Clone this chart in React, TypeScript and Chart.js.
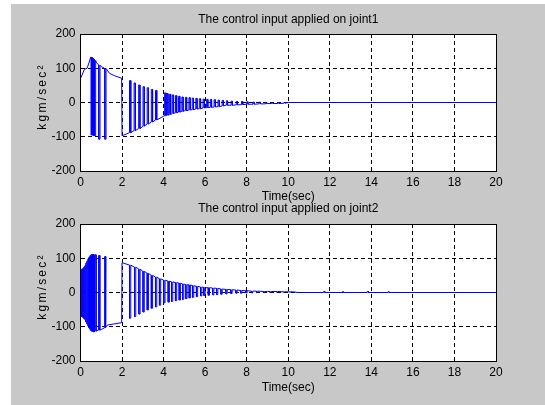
import React, { useEffect, useRef } from "react";
import { Chart, registerables } from "chart.js";

Chart.register(...registerables);

const FONT = '"Liberation Sans", Arial, sans-serif';

const X_TICKS = [0, 2, 4, 6, 8, 10, 12, 14, 16, 18, 20];
const Y_TICKS = [-200, -100, 0, 100, 200];
const TITLE_1 = "The control input applied on joint1";
const TITLE_2 = "The control input applied on joint2";
const X_LABEL = "Time(sec)";
const Y_LABEL = "kgm/sec²";

// ---- joint 1 ----
// path the signal follows between the chattering pulses
const J1_BASE_T = [0, 0.19, 0.32, 0.5, 0.75, 1.0, 1.4, 1.64, 1.98, 2.0, 3.0, 4.0, 5.0, 6.0, 7.0, 8.0, 9.0, 9.85, 10.0, 20];
const J1_BASE_V = [70, 97, 100, 133, 118, 105, 85, 78, 71, -97, -70, -40, -24, -15, -8, -5, -3, -2, 0, 0];
// chattering pulses: time, value where pulse starts, value it reaches
const J1_SPIKE_T = [0.52, 0.57, 0.62, 0.67, 0.88, 1.17, 2.36, 2.58, 2.8, 3.01, 3.21, 3.41, 3.61, 4.05, 4.15, 4.28, 4.42, 4.57, 4.72, 4.88, 5.05, 5.22, 5.38, 5.55, 5.72, 5.9, 6.07, 6.25, 6.43, 6.62, 6.82, 7.02, 7.25, 7.5, 7.75, 8.0, 8.3, 8.6, 8.9, 9.2, 9.5, 9.8];
const J1_SPIKE_FROM = [132, 129, 126, 123, 109, 99, -88, -82, -76, -69, -63, -57, -51, -39, -37, -35, -32, -30, -28, -26, -24, -22, -21, -19, -18, -16, -15, -14, -13, -12, -10, -8, -8, -7, -6, -5, -5, -4, -4, -3, -3, -2];
const J1_SPIKE_TO = [-95, -95, -96, -97, -107, -107, 64, 57, 51, 46, 43, 38, 35, 28, 26, 24, 22, 20, 18, 16, 15, 14, 13, 12, 11, 10, 9, 9, 8, 7, 6, 5, 4, 3, 3, 2, 1, 1, 0, 0, 0, 0];

// ---- joint 2 ----
const J2_BASE_T = [0, 0.63, 0.8, 1.0, 1.2, 1.3, 1.6, 1.98, 2.0, 3.0, 4.0, 5.0, 6.0, 7.0, 8.0, 9.0, 10.0, 10.5, 20];
const J2_BASE_V = [-69, -115, -111, -108, -101, -95, -92, -88, 87, 62, 36, 24, 14, 9, 5, 3, 2, 0, 0];
const J2_SPIKE_T = [0, 0.05, 0.1, 0.15, 0.2, 0.25, 0.3, 0.35, 0.4, 0.45, 0.5, 0.55, 0.6, 0.69, 0.87, 1.16, 2.36, 2.6, 2.81, 3.01, 3.21, 3.41, 3.61, 3.8, 4.01, 4.22, 4.38, 4.57, 4.75, 4.91, 5.07, 5.23, 5.39, 5.58, 5.78, 5.94, 6.15, 6.36, 6.55, 6.76, 7.0, 7.24, 7.48, 7.71, 7.96, 8.23, 8.47, 8.8, 9.12, 9.44, 9.76, 10.08, 10.4, 11.7, 12.6, 13.8, 14.8];
const J2_SPIKE_FROM = [-69, -71, -73, -76, -79, -86, -92, -98, -104, -108, -112, -114, -115, -113, -110, -103, 80, 74, 68, 62, 56, 50, 45, 40, 36, 33, 31, 29, 27, 25, 23, 22, 20, 18, 16, 15, 14, 13, 12, 10, 9, 8, 7, 6, 5, 4, 4, 3, 3, 3, 2, 2, 1, 0, 0, 0, 0];
const J2_SPIKE_TO = [66, 68, 70, 74, 78, 86, 92, 98, 103, 107, 110, 111, 110, 110, 108, 105, -75, -70, -63, -57, -51, -46, -42, -37, -30, -28, -26, -24, -22, -20, -18, -16, -14, -12, -10, -9, -8, -7, -6, -5, -4, -3, -2, -2, -1, -1, 0, 0, 0, 1, 1, 1, 0, 3, 2, 3, 2];

const PULSE_WIDTH = 0.06;

function buildSeries(baseT: number[], baseV: number[], spT: number[], spFrom: number[], spTo: number[]) {
  const ev: { t: number; k: number; pts: { x: number; y: number }[] }[] = [];
  baseT.forEach((t, i) => ev.push({ t, k: 0, pts: [{ x: t, y: baseV[i] }] }));
  spT.forEach((t, i) =>
    ev.push({
      t,
      k: 1,
      pts: [
        { x: t, y: spFrom[i] },
        { x: t, y: spTo[i] },
        { x: t + PULSE_WIDTH, y: spTo[i] },
        { x: t + PULSE_WIDTH, y: spFrom[i] },
      ],
    })
  );
  ev.sort((a, b) => a.t - b.t || a.k - b.k);
  return ev.flatMap((e) => e.pts);
}

const framePlugin = {
  id: "matlabFrame",
  beforeDraw(chart: any) {
    const { ctx, chartArea: a } = chart;
    ctx.save();
    ctx.fillStyle = "#ffffff";
    ctx.fillRect(a.left, a.top, a.right - a.left, a.bottom - a.top);
    ctx.restore();
  },
  afterDraw(chart: any) {
    const { ctx, chartArea: a } = chart;
    const al = (v: number) => Math.round(v - 0.5) + 0.5;
    ctx.save();
    ctx.strokeStyle = "#000";
    ctx.lineWidth = 1;
    ctx.setLineDash([]);
    ctx.strokeRect(al(a.left), al(a.top), al(a.right) - al(a.left), al(a.bottom) - al(a.top));
    // rotated y label
    ctx.translate(42.5, (a.top + a.bottom) / 2 - 6);
    ctx.rotate(-Math.PI / 2);
    ctx.font = `12px ${FONT}`;
    (ctx as any).letterSpacing = "2.2px";
    ctx.fillStyle = "#000";
    ctx.textAlign = "center";
    ctx.textBaseline = "middle";
    ctx.fillText(Y_LABEL, 0, 0);
    ctx.restore();
  },
};

function makeConfig(title: string, data: { x: number; y: number }[], padTop: number, padBottom: number, titlePad: { top: number; bottom: number }, xTitlePadBottom: number): any {
  return {
    type: "line",
    data: {
      datasets: [
        {
          data,
          borderColor: "#0000ff",
          borderWidth: 1,
          pointRadius: 0,
          fill: false,
          tension: 0,
        },
      ],
    },
    options: {
      animation: false,
      responsive: false,
      devicePixelRatio: 1,
      events: [],
      layout: { padding: { left: 0, right: 49, top: padTop, bottom: padBottom } },
      plugins: {
        legend: { display: false },
        tooltip: { enabled: false },
        title: {
          display: true,
          text: title,
          fullSize: false,
          color: "#000",
          font: { family: FONT, size: 12, weight: "normal", lineHeight: 1.2 },
          padding: titlePad,
        },
      },
      scales: {
        x: {
          type: "linear",
          min: 0,
          max: 20,
          afterBuildTicks: (s: any) => {
            s.ticks = X_TICKS.map((v) => ({ value: v }));
          },
          afterFit: (s: any) => {
            s.height = 40;
          },
          ticks: {
            color: "#000",
            font: { family: FONT, size: 12, lineHeight: 1.2 },
            padding: 4.5,
            autoSkip: false,
            maxRotation: 0,
            callback: (v: any) => String(v),
          },
          grid: { color: "#000", lineWidth: 1, drawTicks: false },
          border: { display: true, color: "#000", dash: [4, 3] },
          title: {
            display: true,
            text: X_LABEL,
            color: "#000",
            font: { family: FONT, size: 12, lineHeight: 1.2 },
            padding: { top: 0, bottom: xTitlePadBottom },
          },
        },
        y: {
          type: "linear",
          min: -200,
          max: 200,
          afterBuildTicks: (s: any) => {
            s.ticks = Y_TICKS.map((v) => ({ value: v }));
          },
          afterFit: (s: any) => {
            s.width = 80.5;
          },
          ticks: {
            color: "#000",
            font: { family: FONT, size: 12, lineHeight: 1.2 },
            padding: 5,
            callback: (v: any) => String(v),
          },
          grid: { color: "#000", lineWidth: 1, drawTicks: false },
          border: { display: true, color: "#000", dash: [4, 3] },
        },
      },
    },
    plugins: [framePlugin],
  };
}

export default function App() {
  const ref1 = useRef<HTMLCanvasElement>(null);
  const ref2 = useRef<HTMLCanvasElement>(null);

  useEffect(() => {
    const s1 = buildSeries(J1_BASE_T, J1_BASE_V, J1_SPIKE_T, J1_SPIKE_FROM, J1_SPIKE_TO);
    const s2 = buildSeries(J2_BASE_T, J2_BASE_V, J2_SPIKE_T, J2_SPIKE_FROM, J2_SPIKE_TO);
    const c1 = new Chart(ref1.current!, makeConfig(TITLE_1, s1, 0, 194, { top: 12.3, bottom: 7.3 }, 6.8));
    const c2 = new Chart(ref2.current!, makeConfig(TITLE_2, s2, 189.8, 4, { top: 12, bottom: 7.8 }, 5.8));
    return () => {
      c1.destroy();
      c2.destroy();
    };
  }, []);

  const cs: React.CSSProperties = { position: "absolute", left: 0, top: 0, width: 545, height: 405, display: "block" };
  return (
    <div style={{ position: "absolute", left: 0, top: 0, width: 545, height: 405, background: "#ffffff", overflow: "hidden" }}>
      <div style={{ position: "absolute", left: 11, top: 4, right: 0, bottom: 0, background: "#c8c8c8" }} />
      <canvas ref={ref1} width={545} height={405} style={cs} />
      <canvas ref={ref2} width={545} height={405} style={cs} />
    </div>
  );
}
